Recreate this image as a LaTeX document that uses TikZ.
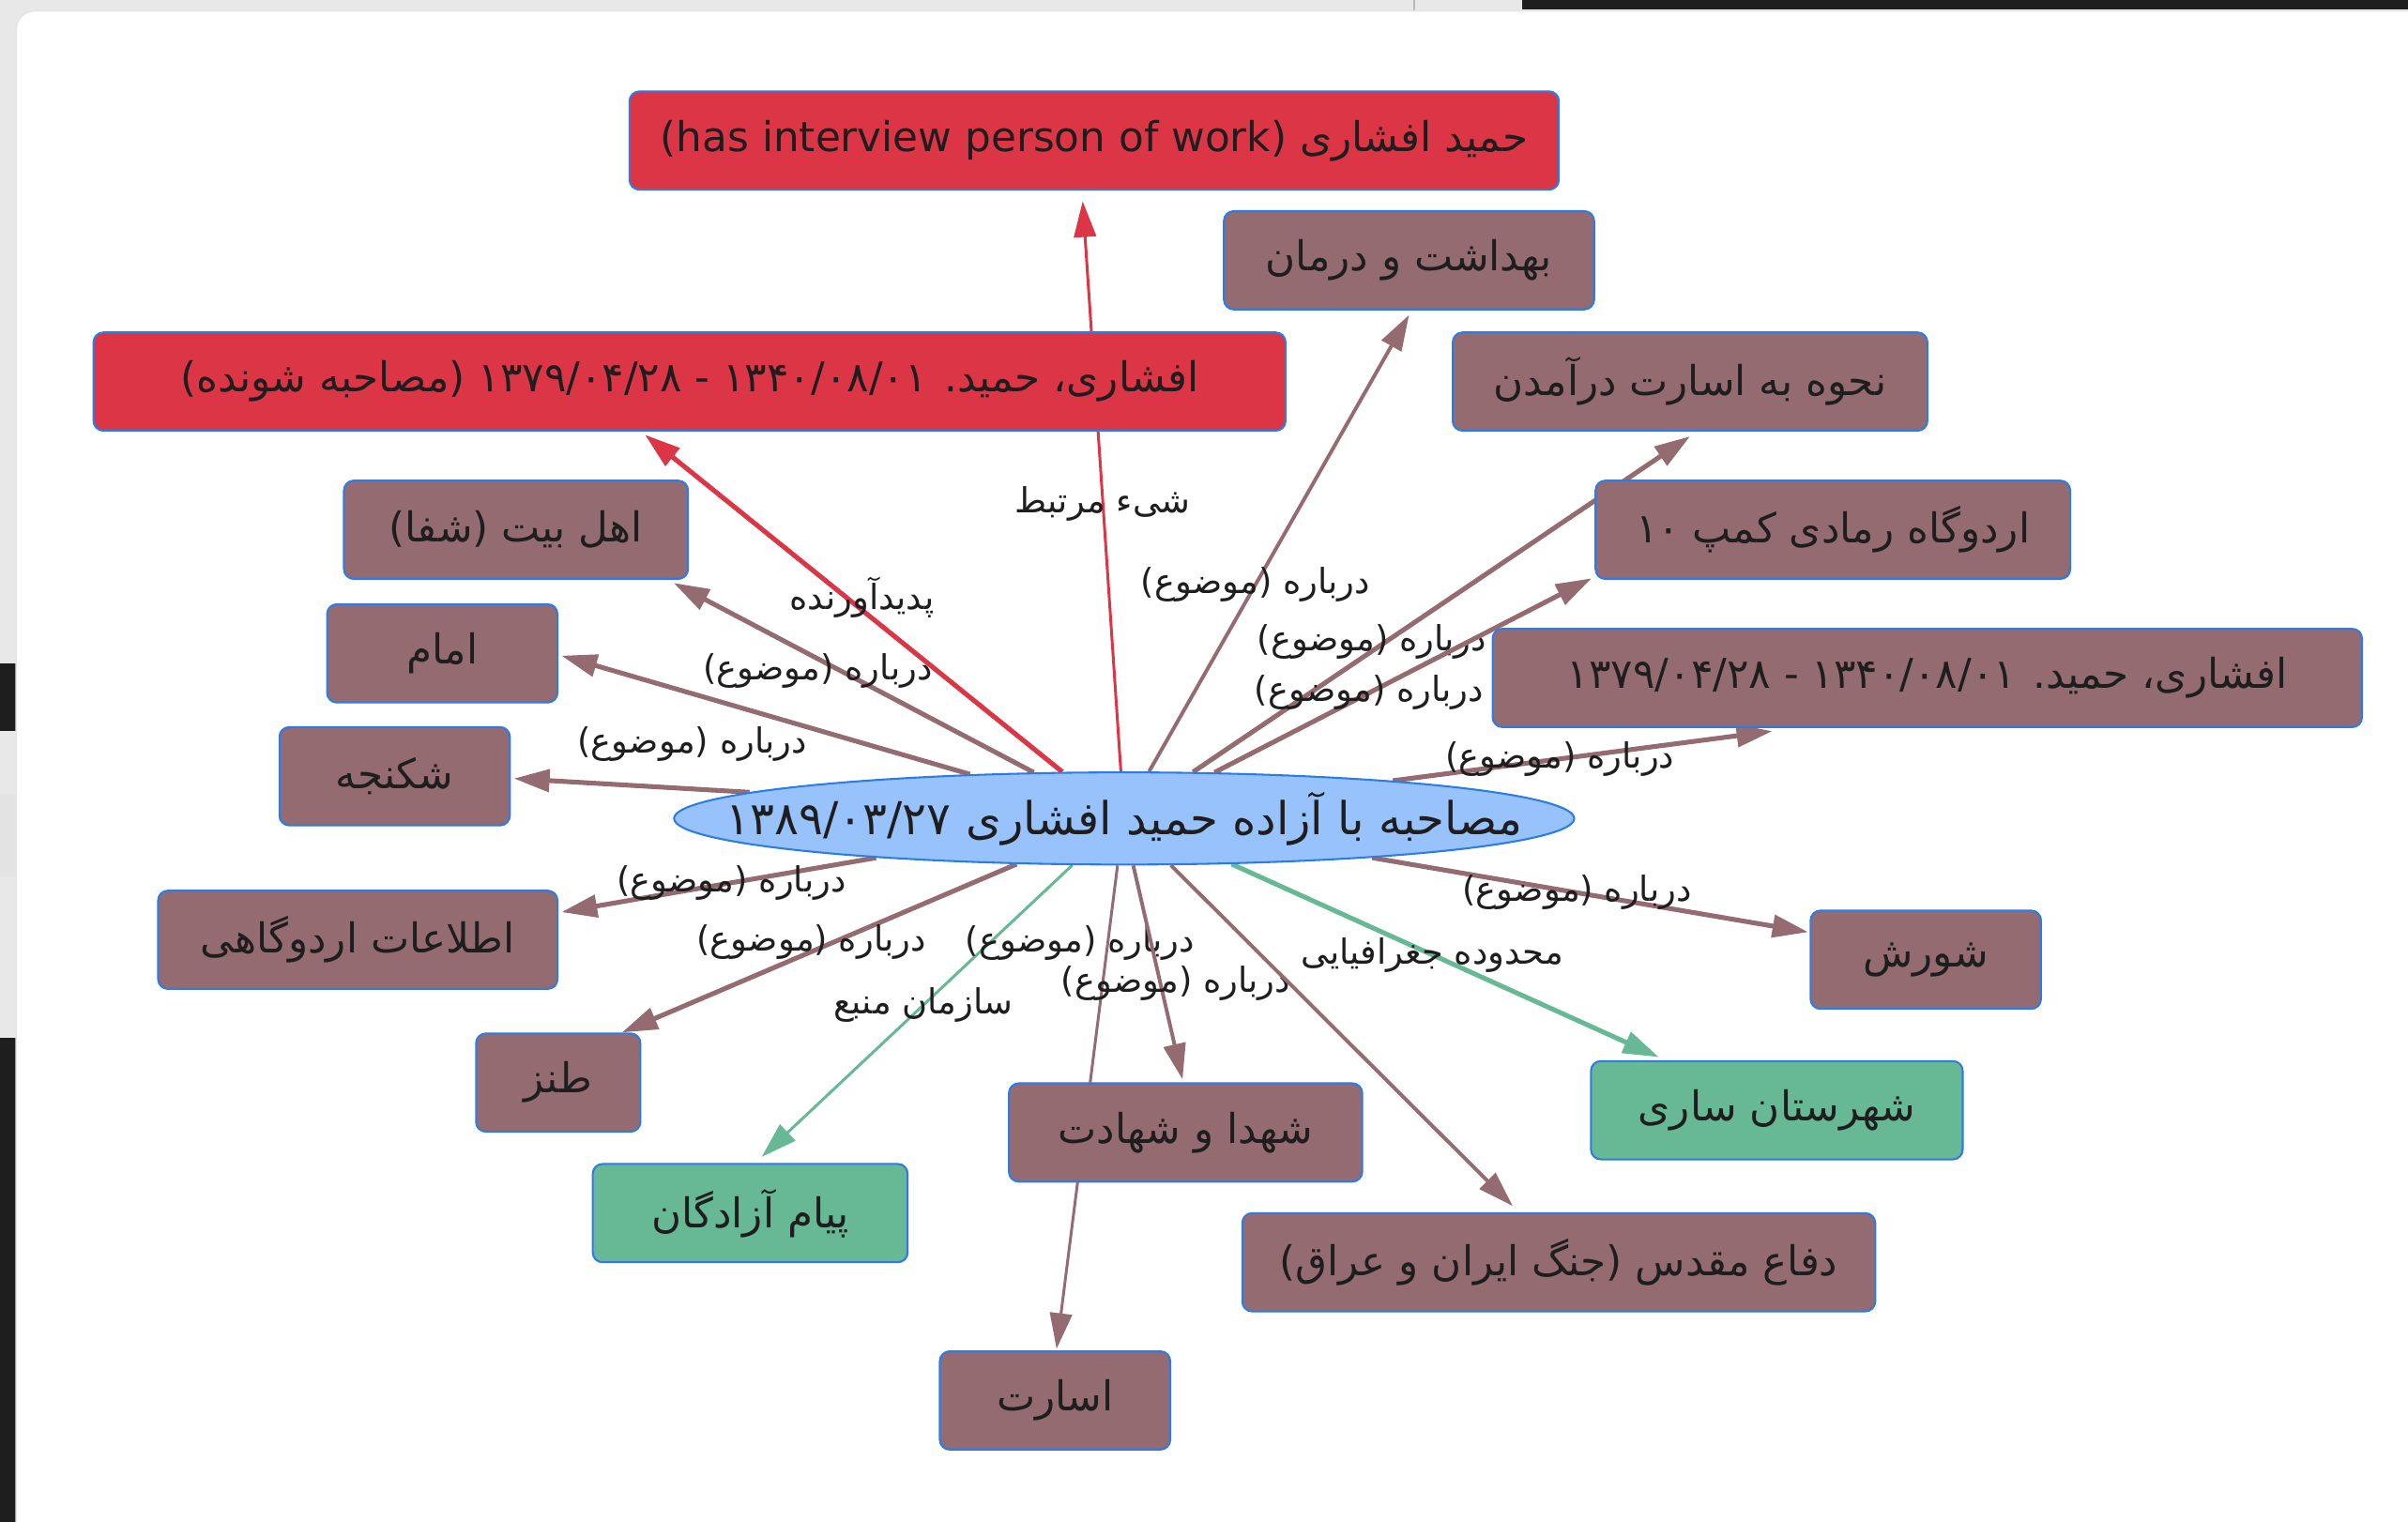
\documentclass[tikz,border=0pt]{standalone}
\usepackage{fontspec}
\setmainfont{DejaVu Sans}
\newfontfamily\fa[Script=Arabic]{DejaVu Sans}
\TeXXeTstate=1
\usetikzlibrary{arrows.meta,shapes.geometric,calc}

\definecolor{topicbrown}{HTML}{936B70}
\definecolor{personred}{HTML}{DC3545}
\definecolor{placegreen}{HTML}{67B894}
\definecolor{hubblue}{HTML}{97C2FC}
\definecolor{rimblue}{HTML}{2B7CE9}
\definecolor{textdark}{HTML}{1E1E1E}
\definecolor{chrome}{HTML}{E8E8E8}
\definecolor{darkchrome}{HTML}{1E1E1E}

\newcommand{\boxfont}{\fa\fontsize{19}{22}\selectfont}
\newcommand{\hubfont}{\fa\fontsize{21}{24}\selectfont}
\newcommand{\relfont}{\fa\fontsize{16}{19}\selectfont}

\pgfdeclarelayer{frame}
\pgfdeclarelayer{edges}
\pgfsetlayers{frame,edges,main}

\tikzset{
  subjbox/.style={draw=rimblue, line width=0.9pt, fill=topicbrown, rounded corners=0.16cm,
    minimum height=1.6cm, inner sep=2pt, text=textdark, font=\boxfont},
  redbox/.style={subjbox, fill=personred},
  greenbox/.style={subjbox, fill=placegreen},
  hub/.style={ellipse, draw=rimblue, line width=0.9pt, fill=hubblue,
    minimum width=14.65cm, minimum height=1.5cm, inner sep=0pt},
  rel/.style={draw=topicbrown, line width=2.2pt, -{Triangle[length=0.58cm,width=0.36cm]}},
  rellabel/.style={font=\relfont, text=textdark, inner sep=1pt}
}

\begin{document}
\begin{tikzpicture}[x=0.025cm, y=-0.025cm]

  \useasboundingbox (0,0) rectangle (1568,991);

  % window round the graph
  \begin{pgfonlayer}{frame}
    \fill[chrome] (0,0) rectangle (1568,991);
    \fill[darkchrome] (991,0) rectangle (1568,6);
    \draw[gray!55, line width=0.8pt] (921,0) -- (921,6.5);
    \fill[darkchrome] (0,432) rectangle (10.5,476);
    \fill[gray!22] (0,517) rectangle (10.5,571);
    \fill[darkchrome] (0,676) rectangle (10.5,991);
    \fill[white, draw=gray!20, line width=0.8pt, rounded corners=0.3cm] (10.5,7) rectangle (1620,1040);
  \end{pgfonlayer}

  % nodes (centres in screen pixels)
  \node[redbox, minimum width=15.125cm] (talker) at (712.5,91.5)
    {\beginR حمید افشاری (\beginL has interview person of work\endL)\endR};
  \node[subjbox, minimum width=6.025cm] (health) at (917.5,169.5) {\beginR بهداشت و درمان\endR};
  \node[redbox, minimum width=19.4cm] (interviewee) at (449,248.5)
    {\beginR افشاری، حمید. \beginL۱۳۴۰/۰۸/۰۱\endL{} - \beginL۱۳۷۹/۰۴/۲۸\endL{} (مصاحبه شونده)\endR};
  \node[subjbox, minimum width=7.725cm] (capture) at (1100.5,248.5) {\beginR نحوه به اسارت درآمدن\endR};
  \node[subjbox, minimum width=5.6cm] (ahlbeit) at (336,345) {\beginR اهل بیت (شفا)\endR};
  \node[subjbox, minimum width=7.725cm] (ramadi) at (1193.5,345) {\beginR اردوگاه رمادی کمپ \beginL۱۰\endL\endR};
  \node[subjbox, minimum width=3.75cm] (imam) at (288,425.5) {\beginR امام\endR};
  \node[subjbox, minimum width=14.15cm] (afshari) at (1255,441.5)
    {\beginR افشاری، حمید. \beginL۱۳۴۰/۰۸/۰۱\endL{} - \beginL۱۳۷۹/۰۴/۲۸\endL\endR};
  \node[subjbox, minimum width=3.75cm] (torture) at (257,505.5) {\beginR شکنجه\endR};
  \node[hub, label={[font=\hubfont, text=textdark]center:\beginR مصاحبه با آزاده حمید افشاری \beginL۱۳۸۹/۰۳/۲۷\endL\endR}]
    (interview) at (732,533) {};
  \node[subjbox, minimum width=6.5cm] (campinfo) at (233,612) {\beginR اطلاعات اردوگاهی\endR};
  \node[subjbox, minimum width=3.75cm] (riot) at (1254,625) {\beginR شورش\endR};
  \node[subjbox, minimum width=2.675cm] (satire) at (363.5,705) {\beginR طنز\endR};
  \node[greenbox, minimum width=6.05cm] (sari) at (1157,723) {\beginR شهرستان ساری\endR};
  \node[subjbox, minimum width=5.75cm] (martyrs) at (772,737.5) {\beginR شهدا و شهادت\endR};
  \node[greenbox, minimum width=5.125cm] (payam) at (488.5,790) {\beginR پیام آزادگان\endR};
  \node[subjbox, minimum width=10.3cm] (defence) at (1015,822) {\beginR دفاع مقدس (جنگ ایران و عراق)\endR};
  \node[subjbox, minimum width=3.75cm] (captivity) at (687,912) {\beginR اسارت\endR};

  \begin{pgfonlayer}{edges}
    % upper half
    \draw[rel, draw=personred, line width=1.3pt] (interview.94) -- ($(talker.south)+(-7.5,7)$)
      node[rellabel, pos=0.47] {\beginR شیء مرتبط\endR};
    \draw[rel, draw=personred] (interview.143) -- ($(interviewee.south)+(-29,2)$)
      node[rellabel, pos=0.48, yshift=0.2cm] {\beginR پدیدآورنده\endR};
    \draw[rel, line width=1.7pt] (interview.62) -- ($(health.south)+(0,3)$)
      node[rellabel, pos=0.41] {\beginR درباره (موضوع)\endR};
    \draw[rel] (interview.34) -- ($(capture.south)+(0,3)$)
      node[rellabel, pos=0.36, yshift=0.15cm] {\beginR درباره (موضوع)\endR};
    \draw[rel] (interview.27) -- ($(ramadi.south west)+(-2,-1)$)
      node[rellabel, pos=0.41] {\beginR درباره (موضوع)\endR};
    \draw[rel] (interview.8) -- ($(afshari.south)+(-101,2)$)
      node[rellabel, pos=0.44] {\beginR درباره (موضوع)\endR};
    \draw[rel] (interview.153) -- ($(ahlbeit.south east)+(-10,2)$)
      node[rellabel, pos=0.6, yshift=-0.2cm] {\beginR درباره (موضوع)\endR};
    \draw[rel] (interview.164) -- ($(imam.east)+(2,1.5)$)
      node[rellabel, pos=0.68, yshift=-0.82cm] {\beginR درباره (موضوع)\endR};
    \draw[rel] (interview.176) -- ($(torture.east)+(2,1.5)$);

    % lower half
    \draw[rel] (interview.189) -- ($(campinfo.east)+(2,-18)$)
      node[rellabel, pos=0.46] {\beginR درباره (موضوع)\endR};
    \draw[rel] (interview.203) -- ($(satire.north)+(41.5,0)$)
      node[rellabel, pos=0.52, yshift=0.15cm] {\beginR درباره (موضوع)\endR};
    \draw[rel, draw=placegreen, line width=1.3pt] (interview.222) -- ($(payam.north)+(7.5,-4)$)
      node[rellabel, pos=0.48] {\beginR سازمان منبع\endR};
    \draw[rel, line width=1.3pt] (interview.262) -- ($(captivity.north)+(1,-1)$)
      node[rellabel, pos=0.16, xshift=-0.45cm] {\beginR درباره (موضوع)\endR};
    \draw[rel, line width=1.7pt] (interview.281) -- ($(martyrs.north)+(-2,-2)$)
      node[rellabel, pos=0.55, xshift=0.25cm] {\beginR درباره (موضوع)\endR};
    \draw[rel, line width=1.7pt] (interview.315) -- ($(defence.north)+(-30,-4)$);
    \draw[rel, draw=placegreen] (interview.337) -- ($(sari.north)+(-77,-2)$)
      node[rellabel, pos=0.47] {\beginR محدوده جغرافیایی\endR};
    \draw[rel] (interview.351) -- ($(riot.west)+(-1,-18)$)
      node[rellabel, pos=0.47] {\beginR درباره (موضوع)\endR};
  \end{pgfonlayer}

\end{tikzpicture}
\end{document}
